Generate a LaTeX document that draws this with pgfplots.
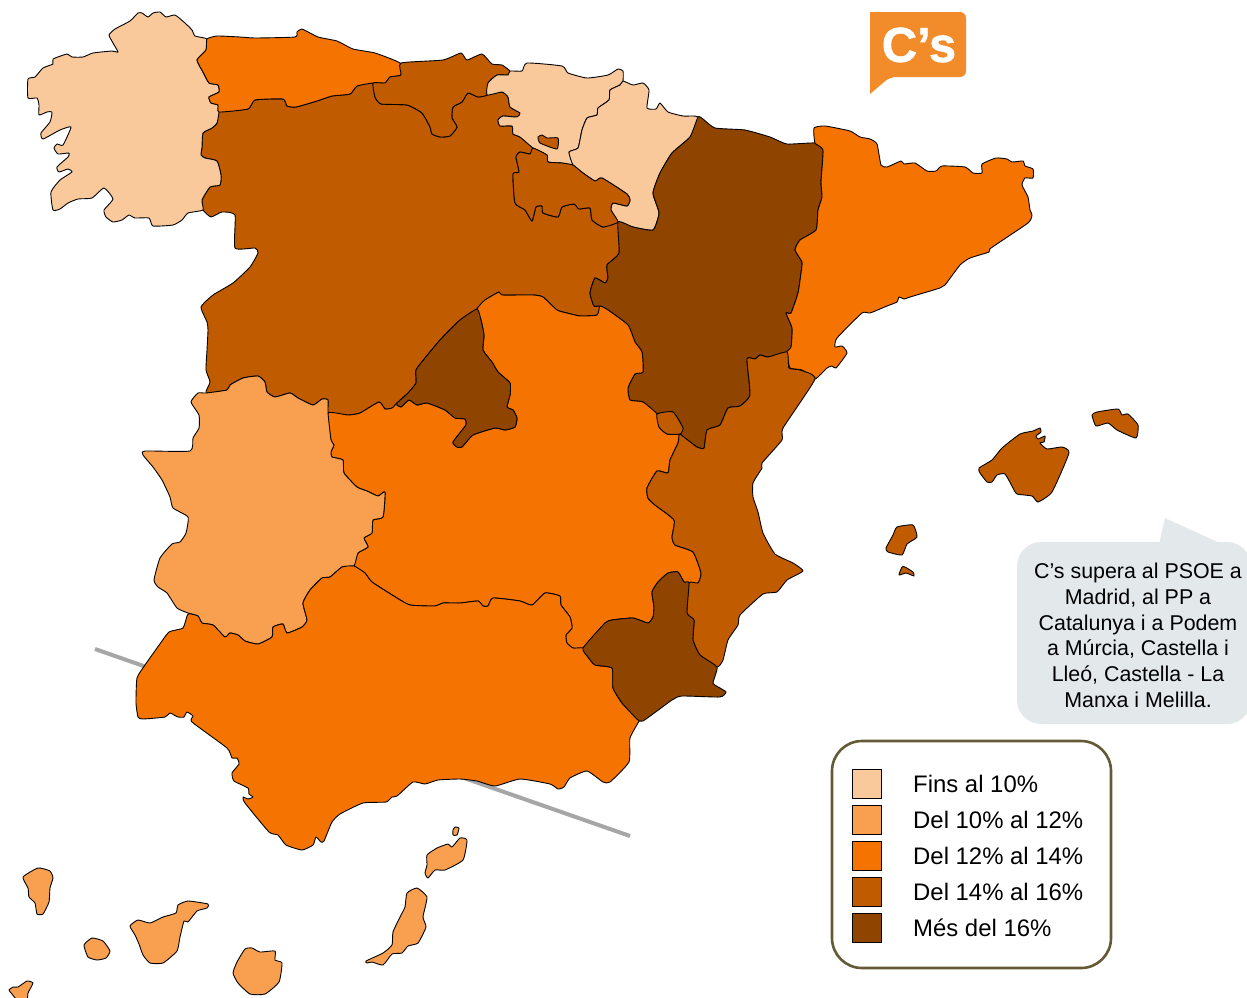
\documentclass[border=0pt]{standalone}
\usepackage{fontspec}
\setmainfont{Liberation Sans}
\usepackage{pgfplots}
\pgfplotsset{compat=1.18}
\definecolor{c1}{HTML}{F9C89B}
\definecolor{c2}{HTML}{F9A050}
\definecolor{c3}{HTML}{F57300}
\definecolor{c4}{HTML}{C05B00}
\definecolor{c5}{HTML}{8F4400}
\definecolor{logo}{HTML}{F28C2B}
\definecolor{bub}{HTML}{E3E9EB}
\definecolor{lgb}{HTML}{655A36}
\pgfplotsset{reg/.style={draw=black,line width=0.9pt,line join=round,no markers,fill=#1,smooth cycle,tension=0.3}}
\begin{document}
\begin{tikzpicture}
\useasboundingbox (0,0) rectangle (1247pt,997pt);
\begin{axis}[hide axis,scale only axis,width=1247pt,height=997pt,xmin=0,xmax=1247,ymin=0,ymax=997,y dir=reverse,clip=true,axis on top=false]
% guide line
\addplot[color=black!35,line width=4pt,no markers] coordinates {(95,649)(630,836)};
% Castilla y Leon
\addplot[reg=c4] coordinates {(219,112)(248,109)(255,100)(283,99)(287,106)(296,107)(317,101)(332,96)(350,94)(357,86)(373,83)(375,97)(381,104)(407,105)(422,113)(430,127)(432,134)(440,137)(450,136)(457,127)(452,118)(453,107)(462,102)(468,93)(478,97)(487,95)(502,92)(508,97)(510,107)(520,113)(517,117)(503,116)(498,120)(500,126)(512,126)(513,134)(520,137)(533,148)(530,154)(520,152)(516,157)(519,172)(513,174)(515,203)(525,210)(532,221)(536,207)(542,206)(543,213)(558,217)(562,207)(574,204)(579,209)(590,208)(592,220)(603,227)(618,222)(619,253)(607,265)(608,278)(605,283)(595,278)(590,293)(594,306)(600,306)(597,315)(580,316)(567,313)(557,310)(543,297)(533,295)(502,295)(499,292)(485,300)(477,309)(460,320)(440,340)(425,358)(416,370)(416,383)(408,393)(397,403)(392,408)(385,409)(379,402)(360,413)(348,415)(328,413)(328,400)(322,399)(313,405)(298,398)(290,393)(275,397)(267,392)(265,382)(258,376)(243,378)(230,385)(227,390)(206,393)(210,382)(206,370)(207,350)(208,330)(207,322)(201,307)(213,295)(233,283)(250,267)(258,253)(255,248)(235,248)(235,215)(222,212)(211,217)(203,210)(202,200)(210,187)(220,185)(221,175)(217,161)(205,158)(201,155)(202,147)(203,133)(212,128)(217,123)};
% Galicia
\addplot[reg=c1] coordinates {(142,13)(148,17)(153,13)(160,12)(166,17)(175,15)(185,23)(192,30)(195,36)(207,39)(206,50)(197,60)(203,72)(209,83)(218,85)(219,92)(209,97)(211,103)(218,105)(219,112)(217,123)(212,128)(203,133)(202,147)(201,155)(205,158)(217,161)(221,175)(220,185)(210,187)(202,200)(203,210)(188,213)(182,220)(173,225)(153,226)(149,218)(135,218)(129,215)(122,220)(113,222)(106,217)(104,210)(113,199)(104,188)(92,198)(78,199)(68,203)(60,209)(53,210)(51,192)(60,180)(72,172)(68,169)(59,172)(57,167)(68,157)(69,153)(58,154)(54,148)(57,144)(63,145)(71,127)(60,130)(43,139)(41,133)(50,122)(52,112)(47,112)(39,115)(39,105)(37,98)(28,98)(28,79)(35,77)(43,68)(53,64)(53,59)(67,54)(72,57)(83,57)(93,53)(112,51)(118,52)(113,43)(109,35)(115,29)(130,21)(138,13)};
% Asturias
\addplot[reg=c3] coordinates {(207,39)(206,50)(197,60)(203,72)(209,83)(218,85)(219,92)(209,97)(211,103)(218,105)(219,112)(248,109)(255,100)(283,99)(287,106)(296,107)(317,101)(332,96)(350,94)(357,86)(373,83)(385,83)(390,77)(401,75)(400,63)(375,53)(353,49)(337,41)(318,37)(302,29)(297,32)(295,37)(255,38)(240,37)(217,36)};
% Cantabria
\addplot[reg=c4] coordinates {(401,63)(443,60)(461,53)(467,60)(482,54)(492,64)(502,65)(510,71)(508,75)(497,75)(488,83)(487,95)(478,97)(468,93)(462,102)(453,107)(452,118)(457,127)(450,136)(440,137)(432,134)(430,127)(422,113)(407,105)(381,104)(375,97)(373,83)(385,83)(390,77)(401,75)};
% Pais Vasco
\addplot[reg=c1] coordinates {(510,71)(522,71)(527,63)(562,66)(568,73)(587,78)(608,75)(618,69)(623,71)(623,81)(620,85)(610,90)(609,100)(598,108)(597,115)(587,118)(582,130)(578,148)(569,152)(573,165)(562,163)(548,162)(547,155)(533,148)(520,137)(513,134)(512,126)(500,126)(498,120)(503,116)(517,117)(520,113)(510,107)(508,97)(502,92)(487,95)(488,83)(497,75)(508,75)};
\addplot[reg=c4] coordinates {(538,137)(542,135)(547,138)(558,138)(557,149)(540,143)};
% Navarra
\addplot[reg=c1] coordinates {(623,81)(633,85)(643,83)(649,90)(647,108)(656,109)(660,103)(668,112)(683,116)(698,117)(690,137)(672,153)(660,173)(653,193)(659,213)(653,230)(633,227)(618,222)(611,210)(613,203)(627,206)(630,200)(627,194)(602,178)(595,181)(583,173)(573,165)(569,152)(578,148)(582,130)(587,118)(597,115)(598,108)(609,100)(610,90)(620,85)};
% La Rioja
\addplot[reg=c4] coordinates {(533,148)(530,154)(520,152)(516,157)(519,172)(513,174)(515,203)(525,210)(532,221)(536,207)(542,206)(543,213)(558,217)(562,207)(574,204)(579,209)(590,208)(592,220)(603,227)(618,222)(611,210)(613,203)(627,206)(630,200)(627,194)(602,178)(595,181)(583,173)(573,165)(562,163)(548,162)(547,155)};
% Aragon
\addplot[reg=c5] coordinates {(698,117)(703,119)(715,128)(745,130)(770,137)(787,144)(815,143)(823,150)(821,182)(822,197)(818,210)(816,230)(800,240)(795,250)(802,262)(801,273)(798,293)(791,313)(786,313)(792,328)(791,347)(785,353)(768,357)(760,355)(755,359)(747,359)(750,395)(740,406)(728,408)(720,425)(707,430)(704,448)(697,447)(680,434)(683,428)(673,412)(657,414)(643,402)(630,400)(628,388)(635,374)(643,372)(642,352)(635,342)(628,325)(608,310)(600,306)(594,306)(590,293)(595,278)(605,283)(608,278)(607,265)(619,253)(618,222)(633,227)(653,230)(659,213)(653,193)(660,173)(672,153)(690,137)};
% Catalunya
\addplot[reg=c3] coordinates {(814,128)(825,126)(850,131)(860,137)(870,139)(877,144)(881,165)(887,167)(901,161)(904,164)(915,163)(927,171)(936,171)(942,166)(965,167)(973,173)(982,173)(982,164)(996,158)(1007,159)(1012,162)(1023,161)(1025,166)(1033,169)(1033,178)(1025,178)(1022,185)(1028,197)(1030,210)(1032,215)(1028,223)(991,248)(989,252)(970,258)(960,265)(945,285)(940,288)(910,297)(904,299)(899,297)(897,302)(887,306)(870,313)(862,313)(837,338)(835,347)(842,346)(847,353)(836,368)(832,366)(827,368)(815,379)(802,370)(790,368)(787,355)(785,353)(791,347)(792,328)(786,313)(791,313)(798,293)(801,273)(802,262)(795,250)(800,240)(816,230)(818,210)(822,197)(821,182)(823,150)(815,143)};
% Castilla-La Mancha
\addplot[reg=c3] coordinates {(477,309)(485,300)(499,292)(502,295)(533,295)(543,297)(557,310)(567,313)(580,316)(597,315)(600,306)(608,310)(628,325)(635,342)(642,352)(643,372)(635,374)(628,388)(630,400)(643,402)(657,414)(659,427)(667,434)(679,434)(678,443)(670,460)(668,473)(657,471)(647,488)(648,498)(655,505)(674,520)(672,537)(675,545)(693,552)(701,573)(698,583)(689,583)(684,582)(678,572)(668,573)(658,582)(652,592)(654,607)(653,617)(648,623)(633,618)(612,620)(605,623)(583,648)(573,648)(567,643)(566,635)(572,628)(570,617)(561,605)(560,596)(545,593)(532,605)(520,601)(493,598)(488,606)(483,606)(478,601)(460,603)(443,603)(435,606)(410,605)(397,598)(372,582)(365,573)(354,566)(358,553)(368,547)(364,538)(372,533)(373,520)(383,517)(385,492)(378,496)(367,491)(357,487)(344,473)(343,460)(332,457)(331,452)(334,445)(331,440)(328,413)(348,415)(360,413)(379,402)(385,409)(392,408)(397,403)(397,405)(401,407)(409,400)(417,405)(427,403)(445,410)(455,418)(465,419)(466,425)(453,442)(457,447)(462,447)(473,435)(495,428)(505,430)(515,427)(517,418)(513,410)(507,407)(510,395)(510,383)(498,372)(492,362)(483,350)(484,335)(481,320)};
% Madrid
\addplot[reg=c5] coordinates {(477,309)(481,320)(484,335)(483,350)(492,362)(498,372)(510,383)(510,395)(507,407)(513,410)(517,418)(515,427)(505,430)(495,428)(473,435)(462,447)(457,447)(453,442)(466,425)(465,419)(455,418)(445,410)(427,403)(417,405)(409,400)(401,407)(397,405)(397,403)(408,393)(416,383)(416,370)(425,358)(440,340)(460,320)};
% Extremadura
\addplot[reg=c2] coordinates {(258,376)(265,382)(267,392)(275,397)(290,393)(298,398)(313,405)(322,399)(328,400)(328,413)(331,440)(334,445)(331,452)(332,457)(343,460)(344,473)(357,487)(367,491)(378,496)(385,492)(383,517)(373,520)(372,533)(364,538)(368,547)(358,553)(354,566)(342,567)(330,577)(322,578)(310,590)(303,603)(307,620)(302,627)(287,633)(283,624)(273,627)(272,637)(258,644)(245,641)(238,635)(230,633)(225,637)(213,625)(202,623)(198,616)(188,613)(177,608)(167,593)(158,587)(154,580)(160,558)(172,544)(180,542)(186,533)(188,517)(173,508)(170,497)(162,480)(153,467)(143,455)(145,451)(190,451)(193,438)(199,428)(199,415)(191,402)(198,393)(206,393)(227,390)(230,385)(243,378)};
% Andalucia
\addplot[reg=c3] coordinates {(188,614)(183,628)(169,632)(157,648)(145,665)(137,678)(136,703)(138,717)(143,719)(165,717)(170,713)(178,717)(184,717)(187,712)(193,716)(192,722)(227,748)(232,758)(237,758)(239,764)(232,773)(234,781)(248,788)(249,794)(253,797)(248,799)(243,797)(245,803)(269,832)(278,835)(286,845)(302,850)(313,845)(316,837)(321,842)(324,841)(332,822)(340,814)(363,803)(386,802)(392,797)(397,796)(413,782)(425,784)(438,780)(460,779)(477,781)(495,786)(520,779)(550,784)(558,789)(564,787)(570,778)(587,771)(603,782)(610,782)(629,762)(630,738)(639,721)(637,719)(622,703)(613,688)(612,668)(595,665)(588,657)(583,648)(573,648)(567,643)(566,635)(572,628)(570,617)(561,605)(560,596)(545,593)(532,605)(520,601)(493,598)(488,606)(483,606)(478,601)(460,603)(443,603)(435,606)(410,605)(397,598)(372,582)(365,573)(354,566)(342,567)(330,577)(322,578)(310,590)(303,603)(307,620)(302,627)(287,633)(283,624)(273,627)(272,637)(258,644)(245,641)(238,635)(230,633)(225,637)(213,625)(202,623)(198,616)};
% Comunitat Valenciana
\addplot[reg=c4] coordinates {(787,352)(789,368)(800,370)(815,379)(783,428)(782,440)(762,463)(762,468)(753,483)(753,497)(758,512)(763,533)(775,554)(793,563)(803,571)(787,580)(777,592)(763,594)(740,615)(738,625)(728,640)(723,660)(717,667)(700,655)(693,640)(694,620)(687,613)(689,583)(698,583)(701,573)(693,552)(675,545)(672,537)(674,520)(655,505)(648,498)(647,488)(657,471)(668,473)(670,460)(678,443)(679,434)(680,434)(697,447)(704,448)(707,430)(720,425)(728,408)(740,406)(750,395)(747,359)(755,359)(760,355)(768,357)};
\addplot[reg=c4] coordinates {(657,414)(673,412)(683,428)(680,434)(667,434)(659,427)};
% Murcia
\addplot[reg=c5] coordinates {(583,648)(605,623)(612,620)(633,618)(648,623)(653,617)(654,607)(652,592)(658,582)(668,573)(678,572)(684,582)(689,583)(687,613)(694,620)(693,640)(700,655)(717,667)(713,683)(720,688)(726,692)(720,697)(682,696)(672,700)(643,721)(637,719)(622,703)(613,688)(612,668)(595,665)(588,657)};
% Balears
\addplot[reg=c4] coordinates {(979,468)(992,460)(1002,448)(1020,434)(1033,431)(1040,428)(1041,432)(1036,436)(1038,439)(1045,436)(1044,442)(1040,443)(1047,449)(1062,447)(1069,453)(1052,492)(1038,502)(1032,496)(1017,494)(1013,488)(1005,474)(997,475)(992,482)(987,482)(980,473)};
\addplot[reg=c4] coordinates {(1092,415)(1097,412)(1118,409)(1122,415)(1128,414)(1138,425)(1136,438)(1117,430)(1108,423)(1096,426)};
\addplot[reg=c4] coordinates {(886,548)(893,535)(897,527)(913,525)(917,537)(907,544)(902,555)(888,552)};
\addplot[reg=c4] coordinates {(899,575)(902,567)(905,567)(913,572)(914,576)(906,573)};
% Canaries
\addplot[reg=c2] coordinates {(23,877)(38,868)(50,871)(53,878)(50,888)(49,902)(43,914)(37,914)(35,903)(29,897)(28,888)};
\addplot[reg=c2] coordinates {(84,945)(92,938)(103,941)(110,951)(106,958)(97,960)(88,957)};
\addplot[reg=c2] coordinates {(130,926)(138,920)(150,923)(163,917)(176,913)(178,905)(188,901)(208,904)(207,908)(197,911)(188,922)(184,921)(180,937)(177,951)(163,963)(150,963)(143,955)(139,944)(135,935)};
\addplot[reg=c2] coordinates {(245,949)(252,948)(260,952)(275,951)(275,960)(282,963)(279,982)(265,994)(250,994)(238,983)(233,973)(237,962)};
\addplot[reg=c2] coordinates {(9,990)(13,987)(18,987)(27,981)(33,983)(28,993)(27,1001)(18,1001)(12,994)};
\addplot[reg=c2] coordinates {(366,961)(383,953)(392,945)(393,932)(400,917)(405,907)(407,893)(417,888)(427,897)(423,917)(426,927)(418,943)(408,946)(402,953)(392,954)(383,965)(372,962)(367,963)};
\addplot[reg=c2] coordinates {(427,855)(437,848)(448,844)(452,847)(460,838)(467,840)(463,860)(445,870)(435,870)(428,878)(425,873)(427,865)};
\addplot[reg=c2] coordinates {(453,830)(455,827)(459,828)(457,835)(453,835)};
% Logo
\fill[logo,rounded corners=6pt] (axis cs:870,12) -- (axis cs:966,12) -- (axis cs:966,77) -- (axis cs:890,77) [sharp corners] -- (axis cs:870,94) -- cycle;
\node[text=white,font=\fontsize{49}{49}\selectfont\bfseries\addfontfeature{FakeBold=1.2},inner sep=0pt] at (axis cs:919,45) {C’s};
% Callout
\fill[bub,rounded corners=24pt] (axis cs:1017,542) rectangle (axis cs:1251,724);
\fill[bub] (axis cs:1165,518) -- (axis cs:1159,544) -- (axis cs:1222,544) -- cycle;
\foreach \t/\y in {C’s supera al PSOE a/578,{Madrid, al PP a}/604,Catalunya i a Podem/630,{a Múrcia, Castella i}/655,{Lleó, Castella - La}/681,Manxa i Melilla./707}{
 \edef\tmp{\noexpand\node[anchor=base,font=\noexpand\fontsize{21.4}{24}\noexpand\selectfont,text=black,inner sep=0pt] at (axis cs:1138,\y) {\unexpanded\expandafter{\t}};}\tmp
}
% Legend
\draw[lgb,fill=white,line width=2.6pt,rounded corners=30pt] (axis cs:832,741) rectangle (axis cs:1111,968);
\addplot[draw=black,line width=0.8pt,fill=c1,no markers] coordinates {(852.5,769.5)(881.5,769.5)(881.5,798)(852.5,798)} --cycle;
\addplot[draw=black,line width=0.8pt,fill=c2,no markers] coordinates {(852.5,805.5)(881.5,805.5)(881.5,834)(852.5,834)} --cycle;
\addplot[draw=black,line width=0.8pt,fill=c3,no markers] coordinates {(852.5,841.5)(881.5,841.5)(881.5,870)(852.5,870)} --cycle;
\addplot[draw=black,line width=0.8pt,fill=c4,no markers] coordinates {(852.5,877.5)(881.5,877.5)(881.5,906)(852.5,906)} --cycle;
\addplot[draw=black,line width=0.8pt,fill=c5,no markers] coordinates {(852.5,913.5)(881.5,913.5)(881.5,942)(852.5,942)} --cycle;
\node[anchor=west,font=\fontsize{23.9}{26}\selectfont,inner sep=0pt] at (axis cs:913,784) {Fins al 10\%};
\node[anchor=west,font=\fontsize{23.9}{26}\selectfont,inner sep=0pt] at (axis cs:913,820) {Del 10\% al 12\%};
\node[anchor=west,font=\fontsize{23.9}{26}\selectfont,inner sep=0pt] at (axis cs:913,856) {Del 12\% al 14\%};
\node[anchor=west,font=\fontsize{23.9}{26}\selectfont,inner sep=0pt] at (axis cs:913,892) {Del 14\% al 16\%};
\node[anchor=west,font=\fontsize{23.9}{26}\selectfont,inner sep=0pt] at (axis cs:913,928) {Més del 16\%};
\end{axis}
\end{tikzpicture}
\end{document}
